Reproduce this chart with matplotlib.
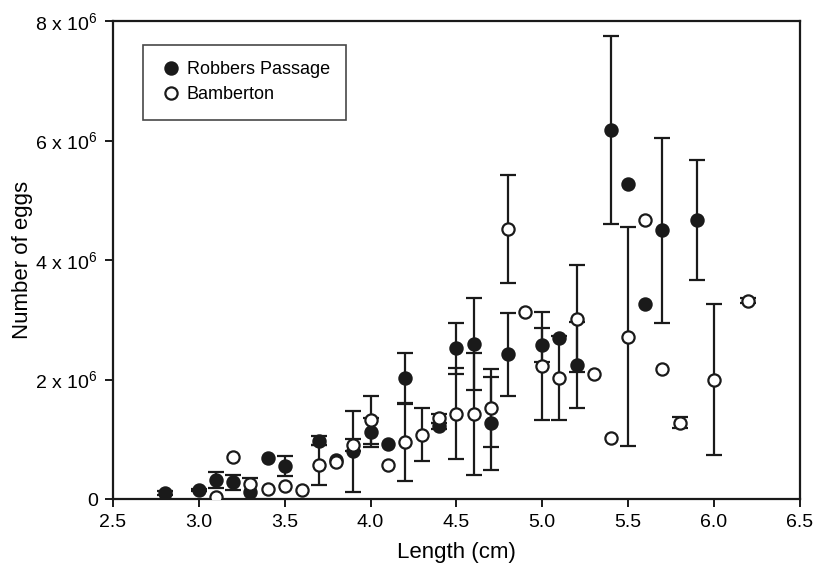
import numpy as np
import matplotlib
matplotlib.use('Agg')
import matplotlib.pyplot as plt
from matplotlib.ticker import FuncFormatter

fam = 'Liberation Sans'
plt.rcParams['font.family'] = [fam, 'DejaVu Sans']
plt.rcParams['mathtext.fontset'] = 'custom'
plt.rcParams['mathtext.rm'] = fam
plt.rcParams['mathtext.it'] = fam

# Robbers Passage (filled), eggs in millions
rp_len = [2.8, 3.0, 3.1, 3.2, 3.3, 3.4, 3.5, 3.7, 3.8, 3.9, 4.0, 4.1, 4.2, 4.4, 4.5,
          4.6, 4.7, 4.8, 5.0, 5.1, 5.2, 5.4, 5.5, 5.6, 5.7, 5.9]
rp_eggs = [0.10, 0.15, 0.32, 0.28, 0.12, 0.68, 0.55, 0.98, 0.65, 0.80, 1.12, 0.93, 2.02, 1.23, 2.52,
           2.60, 1.27, 2.42, 2.58, 2.70, 2.25, 6.18, 5.28, 3.27, 4.50, 4.67]
rp_err = [0.03, 0.02, 0.13, 0.13, 0.23, 0, 0.17, 0.07, 0, 0.68, 0.24, 0, 0.43, 0.05, 0.42,
          0.77, 0.78, 0.69, 0.29, 0, 0.72, 1.57, 0, 0, 1.55, 1.00]

# Bamberton (open)
bb_len = [3.1, 3.2, 3.3, 3.4, 3.5, 3.6, 3.7, 3.8, 3.9, 4.0, 4.1, 4.2, 4.3, 4.4, 4.5,
          4.6, 4.7, 4.8, 4.9, 5.0, 5.1, 5.2, 5.3, 5.4, 5.5, 5.6, 5.7, 5.8, 6.0, 6.2]
bb_eggs = [0.04, 0.70, 0.25, 0.17, 0.22, 0.16, 0.57, 0.62, 0.90, 1.33, 0.57, 0.95, 1.08, 1.35, 1.43,
           1.43, 1.52, 4.52, 3.13, 2.23, 2.03, 3.02, 2.10, 1.03, 2.72, 4.67, 2.18, 1.28, 2.00, 3.32]
bb_err = [0, 0, 0, 0, 0, 0, 0.33, 0, 0.10, 0.40, 0, 0.65, 0.45, 0.08, 0.76,
          1.02, 0.65, 0.91, 0, 0.90, 0.70, 0.90, 0, 0, 1.83, 0, 0, 0.09, 1.27, 0.04]

fig = plt.figure(figsize=(8.16, 5.75), dpi=100)
ax = fig.add_axes([0.1385, 0.132, 0.8415, 0.8315])

ink = '#1a1a1a'

def draw(x, y, e, filled, label, z):
    x = np.array(x)
    y = np.array(y) * 1e6
    e = np.array(e) * 1e6
    m = e > 0
    ax.errorbar(x[m], y[m], yerr=e[m], fmt='none', ecolor=ink, elinewidth=1.6,
                capsize=6, capthick=1.6, zorder=z)
    ax.plot(x, y, 'o', ms=8.8, mec=ink, mew=1.6,
            mfc=ink if filled else 'white', label=label, zorder=z + 0.5)

draw(rp_len, rp_eggs, rp_err, True, 'Robbers Passage', 2)
draw(bb_len, bb_eggs, bb_err, False, 'Bamberton', 3)

ax.set_xlim(2.5, 6.5)
ax.set_ylim(0, 8e6)
ax.set_xticks(np.arange(2.5, 6.51, 0.5))
ax.set_yticks(np.arange(0, 8.1e6, 2e6))
ax.xaxis.set_major_formatter(FuncFormatter(lambda v, p: f'{v:.1f}'))
ax.yaxis.set_major_formatter(FuncFormatter(
    lambda v, p: '0' if v == 0 else f'{int(round(v / 1e6))} x 10$^{{6}}$'))
ax.tick_params(direction='out', length=6, width=1.4, labelsize=14, color=ink, pad=5)
for s in ax.spines.values():
    s.set_linewidth(1.6)
    s.set_color(ink)

ax.set_xlabel('Length (cm)', fontsize=16, labelpad=8)
ax.set_ylabel('Number of eggs', fontsize=16, labelpad=2)

leg = ax.legend(loc='upper left', bbox_to_anchor=(0.044, 0.95), borderaxespad=0,
                fontsize=13, frameon=True, fancybox=False, edgecolor=ink,
                handletextpad=0.2, borderpad=0.9, labelspacing=0.45,
                handlelength=1.3, markerscale=1.0)
leg.get_frame().set_linewidth(1.2)

fig.savefig('out.png', dpi=100)
